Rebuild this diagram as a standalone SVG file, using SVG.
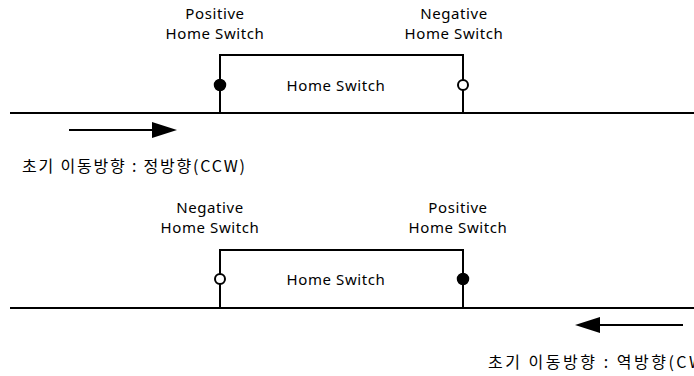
<svg xmlns="http://www.w3.org/2000/svg" width="694" height="376" viewBox="0 0 694 376">
<defs>
<style>
.t{font-family:"Noto Sans","Noto Sans CJK KR",sans-serif;font-size:15px;letter-spacing:0.6px;fill:#000}
.k{font-family:"Noto Sans CJK KR","Noto Sans",sans-serif;font-size:16px;fill:#000}
.ln{stroke:#000;stroke-width:2;fill:none}
.on{fill:#000;stroke:#000;stroke-width:1.5}
.off{fill:#fff;stroke:#000;stroke-width:2}
</style>
<marker id="ah" markerWidth="25" markerHeight="16" refX="0" refY="8" orient="auto" markerUnits="userSpaceOnUse">
<path d="M0,0 L25,8 L0,16 Z" fill="#000"/>
</marker>
</defs>
<g id="connectors">
<line class="ln" x1="10" y1="113" x2="694" y2="113"/>
<line class="ln" x1="10" y1="308" x2="694" y2="308"/>
<line x1="69" y1="130" x2="152" y2="130" stroke="#000" stroke-width="2" marker-end="url(#ah)"/>
<line x1="683" y1="325" x2="600" y2="325" stroke="#000" stroke-width="2" marker-end="url(#ah)"/>
</g>
<g id="switch1">
<polyline class="ln" points="220,113 220,55 463,55 463,113"/>
<circle class="on" cx="220" cy="85" r="5.5"/>
<circle class="off" cx="463" cy="85" r="5"/>
<text class="t" x="336" y="91" text-anchor="middle">Home Switch</text>
</g>
<g id="label-pos1">
<text class="t" x="215" y="19" text-anchor="middle">Positive</text>
<text class="t" x="215" y="39" text-anchor="middle">Home Switch</text>
</g>
<g id="label-neg1">
<text class="t" x="454" y="19" text-anchor="middle">Negative</text>
<text class="t" x="454" y="39" text-anchor="middle">Home Switch</text>
</g>
<g id="dir1">
<text class="k" x="22" y="172" textLength="223" lengthAdjust="spacing">초기 이동방향 : 정방향(CCW)</text>
</g>
<g id="switch2">
<polyline class="ln" points="220,308 220,250 463,250 463,308"/>
<circle class="off" cx="220" cy="279" r="5"/>
<circle class="on" cx="463" cy="279" r="5.5"/>
<text class="t" x="336" y="285" text-anchor="middle">Home Switch</text>
</g>
<g id="label-neg2">
<text class="t" x="210" y="213" text-anchor="middle">Negative</text>
<text class="t" x="210" y="233" text-anchor="middle">Home Switch</text>
</g>
<g id="label-pos2">
<text class="t" x="458" y="213" text-anchor="middle">Positive</text>
<text class="t" x="458" y="233" text-anchor="middle">Home Switch</text>
</g>
<g id="dir2">
<text class="k" x="488" y="368" textLength="223" lengthAdjust="spacing">초기 이동방향 : 역방향(CW)</text>
</g>
</svg>
